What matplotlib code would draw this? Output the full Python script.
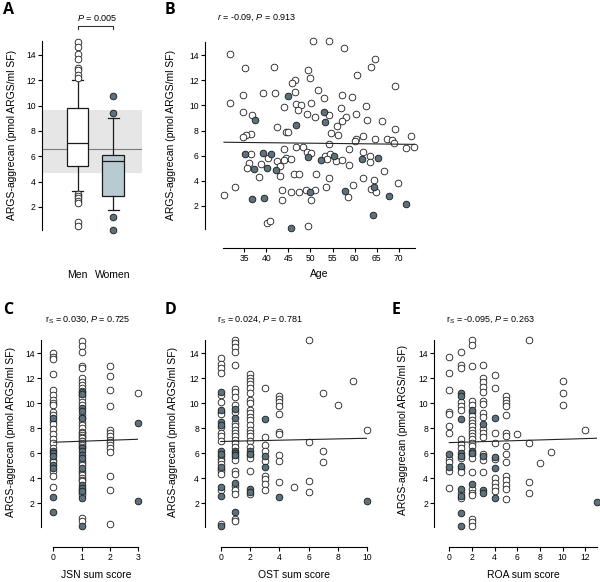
import matplotlib
matplotlib.use("Agg")
import matplotlib.pyplot as plt

plt.rcParams['font.family'] = ['Liberation Sans', 'DejaVu Sans']
plt.rcParams['mathtext.fontset'] = 'custom'
plt.rcParams['mathtext.rm'] = 'Liberation Sans'
plt.rcParams['mathtext.it'] = 'Liberation Sans:italic'

W, H = 600, 582
OPEN = 'white'
FILL = '#5b727c'
EDGE = '#1a1a1a'

# ---- panel A: box statistics
men_box = dict(med=7.02, q1=5.23, q3=9.79, whislo=3.26, whishi=12.0)
women_box = dict(med=5.65, q1=2.87, q3=6.1, whislo=1.76, whishi=9.0)
men_fliers = [15.0, 14.6, 14.1, 13.7, 13.0, 12.8, 12.4, 12.2, 3.0, 2.85, 2.7, 2.5, 2.35, 0.82, 0.5]
women_fliers = [10.76, 9.44, 1.23, 0.18]
ref_band = (4.7, 9.65)
ref_mean = 6.55

# ---- panel B: age vs ARGS
age_men = [50.6, 31.8, 35.2, 41.7, 49.5, 49.8, 46.4, 45.9, 51.8, 39.3, 42.0, 46.5, 34.7, 31.8,
           44.1, 46.7, 47.8, 47.1, 50.2, 34.8, 36.7, 49.3, 51.0, 42.5, 44.5, 45.0, 36.5, 35.3,
           34.8, 46.7, 48.2, 49.2, 50.1, 43.9, 36.5, 40.3, 44.5, 45.6, 43.9, 42.5, 36.0, 35.7,
           38.8, 43.2, 38.4, 46.3, 47.3, 43.1, 51.3, 32.9, 30.5, 43.6, 45.6, 47.3, 48.9, 51.0,
           43.5, 50.1, 40.2, 40.8, 49.5,
           54.1, 57.5, 64.6, 63.7, 60.5, 69.2, 53.1, 57.2, 59.4, 62.5, 56.9, 54.1, 60.3, 58.0,
           57.1, 62.9, 66.2, 56.0, 69.2, 54.6, 56.3, 61.9, 60.3, 60.0, 64.6, 67.4, 68.6, 68.9,
           72.9, 71.6, 73.4, 54.1, 58.7, 61.9, 53.4, 54.5, 53.8, 55.9, 57.2, 58.7, 63.5, 63.4,
           54.1, 66.6, 62.0, 64.3, 69.8, 59.7, 53.6, 63.7, 64.8, 58.4]
val_men = [15.1, 14.1, 13.0, 13.05, 12.8, 12.2, 12.0, 11.75, 11.2, 11.0, 10.95, 11.1, 10.8, 10.2,
           9.9, 10.1, 10.0, 9.6, 10.2, 9.45, 9.2, 9.3, 9.1, 8.25, 7.86, 7.86, 7.73, 7.65,
           7.46, 6.72, 6.67, 6.27, 6.19, 6.51, 6.14, 5.8, 5.8, 5.74, 5.66, 5.58, 5.4, 5.0,
           5.37, 5.18, 4.31, 4.57, 4.57, 4.41, 4.57, 3.54, 2.85, 3.27, 3.14, 3.14, 3.27, 3.27,
           2.45, 2.5, 0.68, 0.81, 0.41,
           15.1, 14.6, 13.7, 13.03, 12.4, 11.54, 10.56, 10.83, 10.64, 9.98, 9.82, 9.24, 9.34, 9.1,
           8.78, 8.81, 8.73, 8.39, 8.12, 7.78, 7.67, 7.59, 7.35, 7.17, 7.3, 7.33, 7.22, 6.99,
           7.57, 6.59, 6.69, 6.91, 6.56, 6.3, 6.0, 6.11, 5.71, 5.58, 5.68, 5.29, 5.95, 5.48,
           4.25, 4.79, 4.2, 4.09, 3.81, 3.7, 3.54, 3.33, 3.09, 2.7]
age_women = [44.9, 37.4, 46.7, 35.2, 39.3, 41.1, 49.5, 40.1, 37.3, 42.2, 49.8, 36.7, 39.5, 45.7,
             53.1, 53.3, 55.3, 52.3, 61.6, 65.2, 64.3, 57.8, 67.8, 71.7, 64.1]
val_women = [10.77, 8.8, 8.47, 6.14, 6.22, 6.14, 5.92, 5.05, 4.92, 4.84, 3.14, 2.54, 2.64, 0.23,
             9.45, 8.7, 6.0, 5.68, 5.76, 5.8, 3.54, 3.2, 2.8, 2.19, 1.29]
fit_age = ([30.4, 73.7], [7.07, 6.90])

# ---- panels C-E: sum scores (values grouped by score)
jsn_men = {0: [14.0, 13.7, 13.5, 12.3, 11.05, 10.65, 10.25, 10.0, 9.85, 9.33, 9.07, 8.6, 8.3, 7.9,
               7.5, 7.1, 6.8, 6.4, 5.5, 5.3, 4.55, 4.2, 3.3],
           1: [15.0, 14.6, 14.1, 13.0, 12.8, 12.0, 11.7, 11.45, 11.2, 11.0, 10.65, 10.4, 10.1, 9.85,
               9.06, 8.8, 8.5, 8.26, 8.0, 7.73, 7.6, 7.47, 7.3, 7.2, 7.0, 6.94, 6.8, 6.67, 6.5,
               5.35, 5.2, 5.08, 4.55, 4.4, 4.28, 4.0, 3.9, 3.75, 3.1, 2.8, 2.69, 0.83, 0.57],
           2: [12.99, 12.19, 11.05, 9.8, 7.87, 7.6, 7.34, 7.07, 6.88, 6.67, 6.41, 6.09, 4.15,
               3.09, 0.36],
           3: [10.8]}
jsn_women = {0: [8.8, 6.15, 6.0, 5.8, 5.1, 4.8, 2.5, 1.3],
             1: [10.9, 10.7, 9.6, 9.35, 8.8, 6.4, 6.15, 5.9, 5.6, 4.8, 3.5, 3.2, 3.0, 2.45, 0.17],
             3: [8.4, 2.15]}
fit_jsn = ([0, 3], [6.88, 7.12])

ost_men = {0: [13.65, 13.1, 12.83, 12.38, 10.66, 10.12, 9.28, 9.12, 8.06, 7.6, 7.39, 6.99, 5.75,
               5.56, 5.35, 5.14, 4.77, 4.55, 4.37, 3.1, 0.36],
           1: [15.05, 14.85, 14.5, 14.1, 13.04, 11.13, 10.87, 10.52, 9.86, 9.28, 8.4, 8.14, 7.87,
               7.6, 7.34, 7.07, 6.81, 6.54, 5.67, 5.48, 4.61, 4.34, 3.36, 3.1, 2.75, 0.76, 0.6],
           2: [12.3, 12.03, 11.77, 11.5, 11.24, 10.79, 10.26, 9.99, 9.46, 9.2, 8.93, 8.66, 8.27,
               7.87, 7.6, 7.34, 6.94, 6.54, 5.83, 5.61, 4.55, 2.75],
           3: [11.2, 7.3, 6.67, 6.2, 5.35, 4.15, 3.97, 3.57, 3.1],
           4: [10.6, 10.34, 10.12, 9.8, 9.12, 7.73, 7.55, 5.83, 5.35, 3.67],
           5: [3.3],
           6: [15.05, 6.89, 3.81, 2.88],
           7: [10.84, 6.2, 5.32],
           8: [9.86],
           9: [11.8],
           10: [7.87]}
ost_women = {0: [10.87, 9.44, 8.48, 8.27, 6.15, 5.96, 4.9, 3.31, 2.6, 0.2],
             1: [9.54, 8.8, 6.2, 6.0, 5.85, 3.6, 1.3],
             2: [6.2, 5.95, 3.15, 2.9],
             3: [8.75, 5.75, 4.9],
             4: [2.5],
             10: [2.2]}
fit_ost = ([0, 10], [6.94, 7.2])

roa_men = {0: [13.67, 12.39, 11.05, 9.31, 9.1, 8.14, 7.58, 5.52, 5.3, 4.58, 3.24],
           1: [14.13, 13.06, 12.82, 10.12, 9.8, 9.47, 7.12, 6.72, 6.45, 5.65, 4.85, 4.5, 2.84, 2.4],
           2: [15.05, 14.69, 13.0, 10.2, 9.88, 9.26, 8.94, 8.67, 8.41, 8.14, 7.87, 7.6, 7.39,
               7.12, 6.85, 6.59, 5.92, 5.65, 4.5, 3.11, 2.84, 2.63, 0.76, 0.49, 0.22],
           3: [13.06, 11.99, 11.67, 11.27, 10.86, 10.2, 9.93, 9.21, 8.86, 7.92, 7.6, 7.31, 5.92,
               5.46, 4.5],
           4: [12.25, 11.19, 7.6, 6.85, 5.52, 4.05, 3.65, 3.32, 2.98],
           5: [10.55, 10.25, 9.98, 9.74, 9.05, 7.65, 7.39, 6.59, 5.92, 5.3, 4.18, 3.83, 3.46,
               3.16, 2.36],
           6: [7.52],
           7: [15.05, 6.85, 3.73, 2.79],
           8: [5.25],
           9: [6.13],
           10: [11.75, 10.81, 9.85],
           12: [7.87]}
roa_women = {0: [5.97, 4.9],
             1: [10.81, 10.6, 8.73, 6.0, 5.8, 5.0, 3.15, 2.55, 1.24, 0.15],
             2: [9.45, 6.2, 6.05, 3.51],
             3: [8.35, 5.75, 3.1, 2.8],
             4: [8.78, 5.73, 4.85, 2.44],
             13: [2.12]}
fit_roa = ([0, 13], [6.85, 7.2])

ylab = 'ARGS-aggrecan (pmol ARGS/ml SF)'
fig = plt.figure(figsize=(W / 100, H / 100), dpi=100)


def px_axes(l, r, t, b):
    return fig.add_axes([l / W, 1 - b / H, (r - l) / W, (b - t) / H])


def ftext(x, y, s, **kw):
    fig.text(x / W, 1 - y / H, s, **kw)


def style(ax, ybounds, xbounds=None):
    ax.spines['top'].set_visible(False)
    ax.spines['right'].set_visible(False)
    ax.spines['left'].set_bounds(*ybounds)
    ax.spines['left'].set_linewidth(0.8)
    if xbounds is None:
        ax.spines['bottom'].set_visible(False)
    else:
        ax.spines['bottom'].set_bounds(*xbounds)
        ax.spines['bottom'].set_linewidth(0.8)
    ax.set_yticks([2, 4, 6, 8, 10, 12, 14])
    ax.tick_params(length=3, width=0.8, labelsize=6.2, pad=1.5)
    ax.set_facecolor('none')


def dots(ax, x, y, filled):
    ax.plot(x, y, 'o', ms=4.8, mfc=FILL if filled else OPEN, mec=EDGE, mew=0.6,
            ls='none', clip_on=False, zorder=3)


def grouped(ax, groups, filled):
    for score, vals in groups.items():
        dots(ax, [score] * len(vals), vals, filled)


# ---------------- A
axA = px_axes(42, 142, 41, 232.3)
axA.set_xlim(0, 2.81)
axA.set_ylim(0, 15.1)
style(axA, (0.15, 15.1))
axA.axhspan(*ref_band, color='#e6e6e6', zorder=0, lw=0)
axA.axhline(ref_mean, color='#7a7a7a', lw=0.8, zorder=1)
res = axA.bxp([dict(men_box, fliers=men_fliers), dict(women_box, fliers=women_fliers)],
              positions=[1, 2], widths=0.6, capwidths=0.3, patch_artist=True,
              boxprops=dict(lw=0.9, edgecolor=EDGE),
              medianprops=dict(color=EDGE, lw=0.9),
              whiskerprops=dict(color=EDGE, lw=0.9),
              capprops=dict(color=EDGE, lw=0.9),
              flierprops=dict(marker='o', ms=4.8, mec=EDGE, mew=0.6))
res['boxes'][0].set_facecolor('white')
res['boxes'][1].set_facecolor('#b8cbd0')
res['fliers'][0].set_markerfacecolor(OPEN)
res['fliers'][1].set_markerfacecolor(FILL)
for f in res['fliers']:
    f.set_clip_on(False)
axA.set_xticks([1, 2], ['Men', 'Women'])
axA.tick_params(axis='x', length=0, labelsize=7.5, pad=27)
axA.plot([1, 1, 2, 2], [16.02, 16.28, 16.28, 16.02], color='#333333', lw=0.8, clip_on=False)
ftext(97, 18, '$P$ = 0.005', ha='center', va='center', fontsize=6.5)

# ---------------- B
axB = px_axes(205, 415, 42, 248)
axB.set_xlim(26.1, 73.7)
axB.set_ylim(-1.34, 15.04)
style(axB, (0.17, 15.04), (30.2, 73.7))
axB.set_xticks([35, 40, 45, 50, 55, 60, 65, 70])
dots(axB, age_men, val_men, False)
dots(axB, age_women, val_women, True)
axB.plot(*fit_age, color='#222222', lw=0.8, zorder=4)
ftext(257, 17.5, '$r$ = -0.09, $P$ = 0.913', ha='center', va='center', fontsize=6.5)
ftext(319, 274, 'Age', ha='center', va='center', fontsize=7.5)

# ---------------- C, D, E
panels = [
    ((41, 138.3), (-0.44, 3), [0, 1, 2, 3], jsn_men, jsn_women, fit_jsn,
     'r$_\\mathrm{S}$ = 0.030, $P$ = 0.725', 88, 'JSN sum score'),
    ((205.3, 367.3), (-1.05, 10), [0, 2, 4, 6, 8, 10], ost_men, ost_women, fit_ost,
     'r$_\\mathrm{S}$ = 0.024, $P$ = 0.781', 260, 'OST sum score'),
    ((434.3, 596.7), (-1.32, 13), [0, 2, 4, 6, 8, 10, 12], roa_men, roa_women, fit_roa,
     'r$_\\mathrm{S}$ = -0.095, $P$ = 0.263', 490, 'ROA sum score'),
]
for (l, r), xl, xt, gm, gw, fit, note, nx, xlab in panels:
    ax = px_axes(l, r, 340, 546.5)
    ax.set_xlim(*xl)
    ax.set_ylim(-1.45, 15.05)
    style(ax, (0.1, 15.05), (0, xl[1]))
    ax.set_xticks(xt)
    grouped(ax, gm, False)
    grouped(ax, gw, True)
    ax.plot(*fit, color='#222222', lw=0.8, zorder=4)
    ftext(nx, 319, note, ha='center', va='center', fontsize=6.5)
    x0 = l + (r - l) * (0 - xl[0]) / (xl[1] - xl[0])
    ftext((x0 + r) / 2, 575, xlab, ha='center', va='center', fontsize=7.5)

# y labels and panel letters
for x, y in [(12, 135), (171, 135), (11, 432), (173, 432), (403, 430)]:
    ftext(x, y, ylab, rotation=90, ha='center', va='center', fontsize=7.5)
for x, y, s in [(3, 10, 'A'), (165, 10, 'B'), (3, 310, 'C'), (165, 310, 'D'), (392, 310, 'E')]:
    fig.text(x / W, 1 - y / H, s, ha='left', va='center', fontsize=11.5, fontweight='bold',
             family=['Open Sans', 'DejaVu Sans'])

fig.savefig('out.png', dpi=100)
plt.close(fig)
